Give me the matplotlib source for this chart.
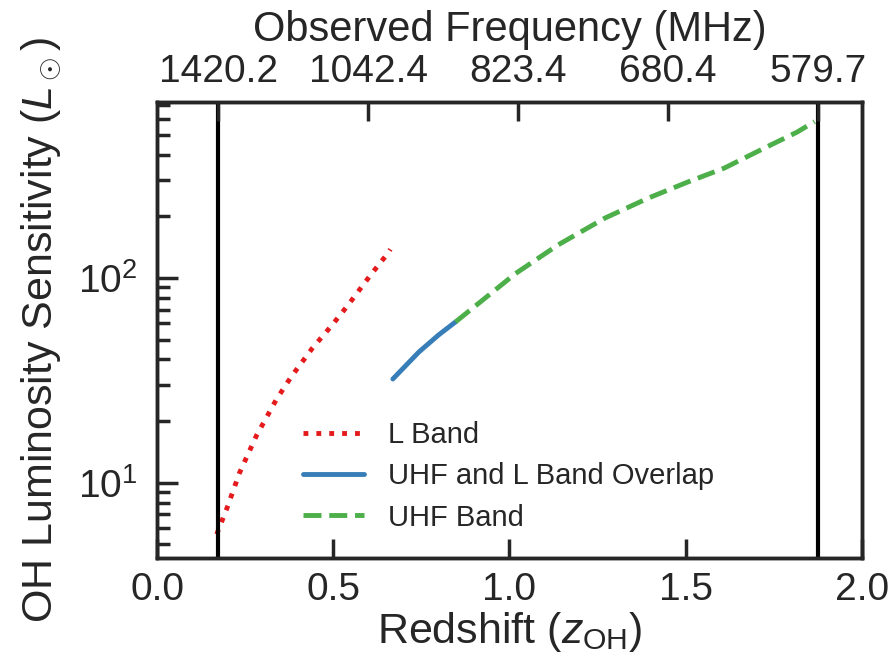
import numpy as np
import matplotlib.pyplot as plt

# OH rest frequency (MHz)
OH_REST = 1667.359

# L band sensitivity curve
l_band_z = [0.169, 0.198, 0.234, 0.282, 0.339, 0.381, 0.441, 0.497, 0.540, 0.607, 0.655, 0.662]
l_band_lum = [5.6, 7.5, 11.2, 17.0, 25.6, 33.0, 45.5, 59.0, 73.0, 104, 132, 138]

# UHF and L band overlap
overlap_z = [0.669, 0.743, 0.799, 0.847]
overlap_lum = [32.1, 43.5, 52.7, 61.0]

# UHF band
uhf_z = [0.847, 0.918, 1.017, 1.138, 1.271, 1.393, 1.506, 1.610, 1.712, 1.816, 1.866]
uhf_lum = [61.0, 76.5, 105, 145, 196, 245, 294, 344, 421, 515, 580]

# top axis frequency labels
top_freqs = [1420.2, 1042.4, 823.4, 680.4, 579.7]

plt.rcParams['font.family'] = ['Liberation Sans', 'DejaVu Sans']
plt.rcParams['mathtext.fontset'] = 'custom'
plt.rcParams['mathtext.rm'] = 'Liberation Sans'
plt.rcParams['mathtext.it'] = 'Liberation Sans:italic'
plt.rcParams['text.color'] = '#262626'
plt.rcParams['axes.labelcolor'] = '#262626'
plt.rcParams['xtick.color'] = '#262626'
plt.rcParams['ytick.color'] = '#262626'

fig = plt.figure(figsize=(8.93, 6.72), dpi=100)
ax = fig.add_axes([0.176, 0.170, 0.789, 0.678])

ax.plot(l_band_z, l_band_lum, ':', color='#e41a1c', lw=3.5, label='L Band')
ax.plot(overlap_z, overlap_lum, '-', color='#377eb8', lw=3.5, label='UHF and L Band Overlap',
        solid_capstyle='round')
ax.plot(uhf_z, uhf_lum, '--', color='#4daf4a', lw=3.5, label='UHF Band')

top_z = [OH_REST / f - 1 for f in top_freqs]
ax.axvline(top_z[0], color='black', lw=3)
ax.axvline(top_z[-1], color='black', lw=3)

ax.set_yscale('log')
ax.set_xlim(0, 2.0)
ax.set_ylim(4.3, 722)
ax.set_xticks([0.0, 0.5, 1.0, 1.5, 2.0])
ax.set_xticklabels(['0.0', '0.5', '1.0', '1.5', '2.0'])

for s in ax.spines.values():
    s.set_linewidth(2.5)
    s.set_color('#262626')

ax.tick_params(axis='both', which='major', direction='in', labelsize=28, width=2.5)
ax.tick_params(axis='x', which='major', length=14, pad=10)
ax.tick_params(axis='y', which='major', length=15, pad=14)
ax.tick_params(axis='y', which='minor', direction='in', length=9, width=2.5)
ax.tick_params(axis='x', which='minor', bottom=False)

ax.set_xlabel(r'Redshift ($z_{\rm OH}$)', fontsize=31, labelpad=2)
ax.set_ylabel(r'OH Luminosity Sensitivity ($L_\odot$)', fontsize=31, labelpad=10)

ax2 = ax.twiny()
ax2.set_xlim(ax.get_xlim())
ax2.set_xticks(top_z)
ax2.set_xticklabels([f'{f:.1f}' for f in top_freqs])
ax2.tick_params(axis='x', direction='in', length=14, width=2.5, labelsize=28, pad=9)
ax2.set_xlabel('Observed Frequency (MHz)', fontsize=30, labelpad=9)
for s in ax2.spines.values():
    s.set_linewidth(2.5)
    s.set_color('#262626')

leg = ax.legend(loc='lower left', bbox_to_anchor=(0.17, 0.0), frameon=False, fontsize=21,
                handlelength=2.1, handletextpad=0.8, labelspacing=0.45)

fig.savefig('out.png', dpi=100)
